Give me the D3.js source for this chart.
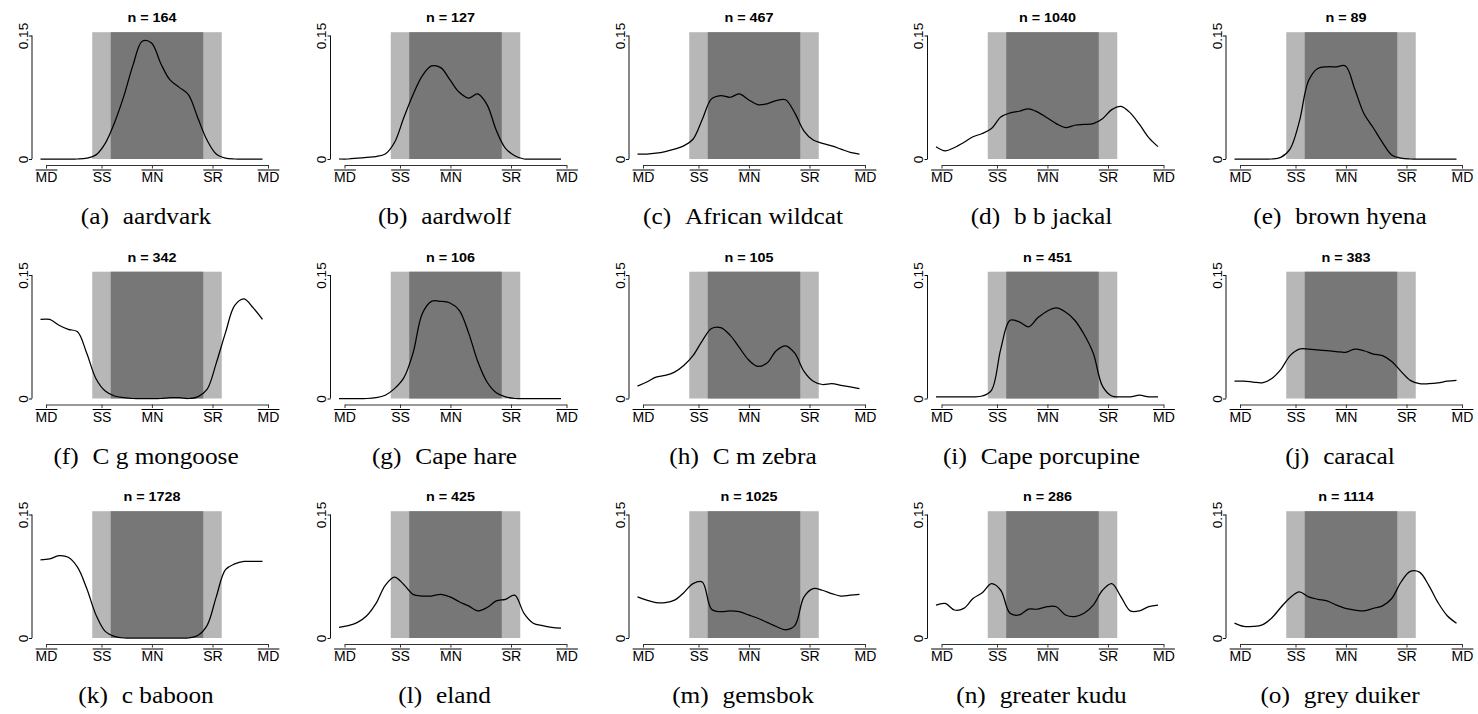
<!DOCTYPE html>
<html>
<head>
<meta charset="utf-8">
<script src="https://cdn.jsdelivr.net/npm/d3@7/dist/d3.min.js"></script>
<style>
  body { margin: 0; background: #fff; }
  svg { display: block; }
</style>
</head>
<body>
<svg id="chart" width="1478" height="714"></svg>
<script>
// hours after midday at which each density curve was read
var hours = [0, 1, 2, 3, 4, 5, 6, 7, 8, 9, 10, 11, 12, 13, 14, 15, 16, 17, 18, 19, 20, 21, 22, 23, 24];

var aardvark      = [0, 0, 0, 0, 0, 0.001, 0.005, 0.019, 0.044, 0.076, 0.114, 0.143, 0.141, 0.116, 0.096, 0.087, 0.078, 0.050, 0.023, 0.006, 0.001, 0, 0, 0, 0];
var aardwolf      = [0, 0, 0.001, 0.002, 0.003, 0.006, 0.020, 0.050, 0.078, 0.101, 0.113, 0.111, 0.096, 0.081, 0.074, 0.079, 0.066, 0.035, 0.013, 0.004, 0, 0, 0, 0, 0];
var wildcat       = [0.006, 0.006, 0.007, 0.009, 0.012, 0.016, 0.024, 0.048, 0.073, 0.077, 0.075, 0.079, 0.072, 0.066, 0.067, 0.071, 0.072, 0.056, 0.034, 0.023, 0.019, 0.016, 0.012, 0.008, 0.006];
var jackal        = [0.015, 0.010, 0.014, 0.020, 0.027, 0.031, 0.037, 0.051, 0.056, 0.058, 0.061, 0.057, 0.050, 0.043, 0.038, 0.041, 0.042, 0.043, 0.049, 0.060, 0.064, 0.056, 0.042, 0.026, 0.015];
var brownHyena    = [0, 0, 0, 0, 0, 0.002, 0.012, 0.045, 0.095, 0.110, 0.112, 0.112, 0.113, 0.085, 0.055, 0.038, 0.020, 0.005, 0.001, 0, 0, 0, 0, 0, 0];
var mongoose      = [0.096, 0.096, 0.089, 0.084, 0.081, 0.055, 0.024, 0.009, 0.003, 0.001, 0, 0, 0, 0, 0.001, 0.001, 0, 0.002, 0.011, 0.043, 0.080, 0.113, 0.121, 0.110, 0.096];
var capeHare      = [0, 0, 0, 0, 0.001, 0.004, 0.012, 0.025, 0.055, 0.103, 0.118, 0.118, 0.116, 0.107, 0.080, 0.045, 0.020, 0.007, 0.002, 0, 0, 0, 0, 0, 0];
var zebra         = [0.015, 0.020, 0.026, 0.028, 0.032, 0.040, 0.052, 0.070, 0.085, 0.086, 0.077, 0.062, 0.047, 0.039, 0.043, 0.058, 0.064, 0.055, 0.033, 0.021, 0.017, 0.018, 0.016, 0.014, 0.012];
var porcupine     = [0.002, 0.002, 0.002, 0.002, 0.002, 0.003, 0.010, 0.060, 0.095, 0.093, 0.087, 0.098, 0.106, 0.110, 0.105, 0.095, 0.078, 0.055, 0.015, 0.003, 0.002, 0.002, 0.004, 0.002, 0.002];
var caracal       = [0.021, 0.021, 0.020, 0.019, 0.024, 0.035, 0.052, 0.060, 0.060, 0.059, 0.058, 0.057, 0.056, 0.060, 0.058, 0.054, 0.052, 0.045, 0.033, 0.022, 0.018, 0.018, 0.019, 0.021, 0.022];
var baboon        = [0.095, 0.096, 0.100, 0.098, 0.086, 0.060, 0.028, 0.008, 0.002, 0, 0, 0, 0, 0, 0, 0, 0, 0.003, 0.015, 0.050, 0.083, 0.090, 0.093, 0.093, 0.093];
var eland         = [0.013, 0.015, 0.019, 0.027, 0.042, 0.064, 0.074, 0.065, 0.053, 0.051, 0.051, 0.053, 0.050, 0.044, 0.039, 0.033, 0.037, 0.045, 0.047, 0.052, 0.030, 0.018, 0.015, 0.013, 0.012];
var gemsbok       = [0.050, 0.046, 0.043, 0.043, 0.046, 0.055, 0.066, 0.068, 0.035, 0.032, 0.033, 0.032, 0.028, 0.024, 0.019, 0.014, 0.010, 0.015, 0.050, 0.060, 0.058, 0.054, 0.051, 0.052, 0.053];
var kudu          = [0.040, 0.042, 0.034, 0.036, 0.048, 0.055, 0.066, 0.058, 0.030, 0.028, 0.035, 0.035, 0.038, 0.038, 0.028, 0.026, 0.030, 0.040, 0.058, 0.066, 0.050, 0.033, 0.033, 0.038, 0.040];
var greyDuiker    = [0.018, 0.014, 0.014, 0.016, 0.024, 0.037, 0.049, 0.056, 0.050, 0.047, 0.045, 0.040, 0.036, 0.034, 0.033, 0.036, 0.039, 0.048, 0.068, 0.081, 0.080, 0.064, 0.043, 0.027, 0.018];

var series = [aardvark, aardwolf, wildcat, jackal, brownHyena,
              mongoose, capeHare, zebra, porcupine, caracal,
              baboon, eland, gemsbok, kudu, greyDuiker];

var letters = ["a", "b", "c", "d", "e", "f", "g", "h", "i", "j", "k", "l", "m", "n", "o"];
var species = ["aardvark", "aardwolf", "African wildcat", "b b jackal", "brown hyena",
               "C g mongoose", "Cape hare", "C m zebra", "Cape porcupine", "caracal",
               "c baboon", "eland", "gemsbok", "greater kudu", "grey duiker"];
var counts = [164, 127, 467, 1040, 89, 342, 106, 105, 451, 383, 1728, 425, 1025, 286, 1114];

var tickHours = [0, 6, 11.45, 18, 24];
var tickNames = ["MD", "SS", "MN", "SR", "MD"];
var yTicks = [0, 0.15];
var twilight = [5, 19];
var night = [7, 17];
var shadeTop = 0.154;

//////////////////////////////////////////////////////////////////////////////

var colW = 298.5, rowH = 239.5;
var sans = "'Liberation Sans', Arial, Helvetica, sans-serif";
var serif = "'Liberation Serif', 'Times New Roman', serif";

var x = d3.scaleLinear().domain([0, 24]).range([46, 268]);
// the density curve sits a few pixels left of the axis ticks, as in the source figure
var xCurve = d3.scaleLinear().domain([0, 24]).range([40.5, 262.5]);
var y = d3.scaleLinear().domain([0, 0.15]).range([159, 35.5]);

var line = d3.line()
  .x(function(d, i) { return xCurve(hours[i]); })
  .y(function(d) { return y(d); })
  .curve(d3.curveCatmullRom.alpha(0.5));

var svg = d3.select("#chart");

series.forEach(function(values, k) {
  var col = k % 5, row = Math.floor(k / 5);
  var g = svg.append("g")
    .attr("transform", "translate(" + (col * colW) + "," + (row * rowH) + ")");

  // twilight and night shading
  g.append("rect")
    .attr("x", x(twilight[0]))
    .attr("width", x(twilight[1]) - x(twilight[0]))
    .attr("y", y(shadeTop))
    .attr("height", y(0) - y(shadeTop))
    .attr("fill", "#b7b7b7");
  g.append("rect")
    .attr("x", x(night[0]))
    .attr("width", x(night[1]) - x(night[0]))
    .attr("y", y(shadeTop))
    .attr("height", y(0) - y(shadeTop))
    .attr("fill", "#777777");

  g.append("path")
    .datum(values)
    .attr("d", line)
    .attr("fill", "none")
    .attr("stroke", "#000")
    .attr("stroke-width", 1.25);

  // y axis
  var ya = g.append("g")
    .attr("transform", "translate(32,0)")
    .call(d3.axisLeft(y).tickValues(yTicks).tickSize(3).tickSizeOuter(0)
      .tickFormat(function(d) { return d === 0 ? "0" : "0.15"; }));
  ya.attr("color", "#111");
  ya.select(".domain").attr("d", "M0," + y(0) + "V" + y(0.15));
  ya.selectAll("text")
    .attr("transform", "rotate(-90)")
    .attr("x", 0)
    .attr("y", -4.5)
    .attr("dy", 0)
    .attr("text-anchor", "middle")
    .style("font-family", sans)
    .style("font-size", "13.5px")
    .attr("fill", "#000");

  // x axis
  var xa = g.append("g")
    .attr("transform", "translate(0,165)")
    .call(d3.axisBottom(x).tickValues(tickHours).tickSize(3.5).tickSizeOuter(0)
      .tickFormat(function(d, i) { return tickNames[i]; }));
  xa.attr("color", "#333");
  xa.selectAll("text")
    .attr("y", 17)
    .attr("dy", 0)
    .style("font-family", sans)
    .style("font-size", "14px")
    .attr("fill", "#000");
  xa.selectAll(".tick").each(function() {
    var t = d3.select(this).select("text");
    var w = t.node().getComputedTextLength();
    d3.select(this).append("line")
      .attr("x1", -w / 2).attr("x2", w / 2)
      .attr("y1", 5).attr("y2", 5)
      .attr("stroke", "#000")
      .attr("stroke-width", 1);
  });

  // sample size title
  g.append("text")
    .attr("transform", "translate(152,22) scale(1.2,1)")
    .attr("text-anchor", "middle")
    .style("font-family", sans)
    .style("font-weight", "bold")
    .style("font-size", "12px")
    .text("n = " + counts[k]);

  // sub-caption
  var cap = g.append("text")
    .attr("transform", "translate(146,224) scale(1.1,1)")
    .attr("text-anchor", "middle")
    .style("font-family", serif)
    .style("font-size", "23px");
  cap.append("tspan").text("(" + letters[k] + ")");
  cap.append("tspan").attr("dx", "0.55em").text(species[k]);
});
</script>
</body>
</html>
